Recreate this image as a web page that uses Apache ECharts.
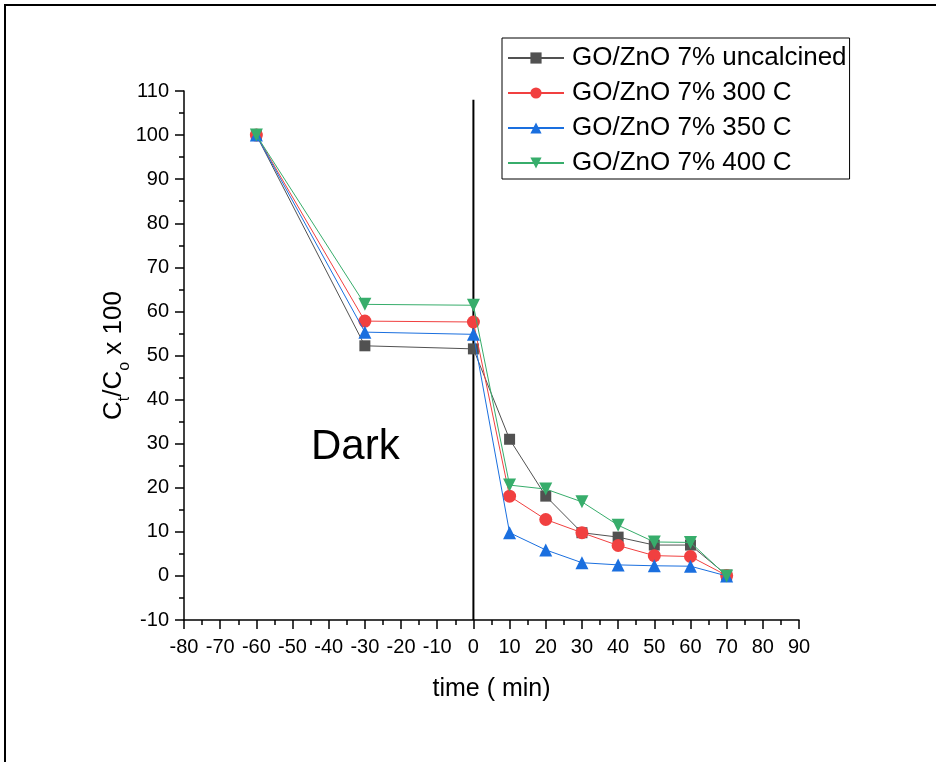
<!DOCTYPE html>
<html><head><meta charset="utf-8">
<script src="https://cdn.jsdelivr.net/npm/echarts@6/dist/echarts.min.js"></script>
<style>html,body{margin:0;padding:0;background:#fff}#c{width:936px;height:762px}</style>
</head><body><div id="c"></div>
<script>
const times = [-60, -30, 0, 10, 20, 30, 40, 50, 60, 70];
const seriesNames = ['GO/ZnO 7% uncalcined', 'GO/ZnO 7% 300 C', 'GO/ZnO 7% 350 C', 'GO/ZnO 7% 400 C'];
const uncalcined = [100, 52.2, 51.5, 31.0, 18.1, 9.8, 8.8, 7.0, 7.0, 0.2];
const c300 = [100, 57.8, 57.6, 18.1, 12.8, 9.8, 6.9, 4.6, 4.4, 0.1];
const c350 = [100, 55.3, 54.8, 9.8, 5.9, 3.0, 2.5, 2.3, 2.2, 0.0];
const c400 = [100, 61.6, 61.4, 20.6, 19.7, 16.8, 11.5, 7.7, 7.6, 0.0];
const darkLine = [[0, -10], [0, 108]];
const colors = ['#515151', '#F14040', '#1A6FDF', '#37AD6B'];
const symbols = ['rect', 'circle', 'triangle', 'path://M0,0 L10,0 L5,9 Z'];
const allData = [uncalcined, c300, c350, c400];

const chart = echarts.init(document.getElementById('c'), null, {renderer: 'canvas'});
const font = 'Liberation Sans, Arial, sans-serif';
const series = allData.map((d, i) => ({
  name: seriesNames[i],
  type: 'line',
  data: times.map((t, k) => [t, d[k]]),
  symbol: symbols[i],
  symbolSize: i === 0 ? 11 : 13,
  lineStyle: {width: 1, color: colors[i]},
  itemStyle: {color: colors[i]},
  z: 3 + i
}));
series.push({
  type: 'line', data: darkLine, symbol: 'none', silent: true,
  lineStyle: {width: 2, color: '#000'}, z: 2
});
chart.setOption({
  animation: false,
  backgroundColor: '#fff',
  grid: {left: 184, top: 91, right: 137, bottom: 142},
  xAxis: {
    type: 'value', min: -80, max: 90, interval: 10,
    name: 'time ( min)', nameLocation: 'middle', nameGap: 57, nameMoveOverlap: false,
    nameTextStyle: {fontFamily: font, fontSize: 25, color: '#000'},
    axisLine: {onZero: false, lineStyle: {color: '#000', width: 1.5}},
    axisTick: {length: 9, lineStyle: {color: '#000', width: 1.5}},
    minorTick: {show: true, splitNumber: 2, length: 5, lineStyle: {color: '#000', width: 1.5}},
    axisLabel: {fontFamily: font, fontSize: 20, color: '#000', margin: 17},
    splitLine: {show: false}
  },
  yAxis: {
    type: 'value', min: -10, max: 110, interval: 10,
    name: '{a|C}{s|t}{a|/C}{s|o}{a| x 100}', nameLocation: 'middle', nameGap: 57, nameMoveOverlap: false,
    nameTextStyle: {
      fontFamily: font, color: '#000',
      rich: {
        a: {fontFamily: font, fontSize: 26, color: '#000', lineHeight: 32, verticalAlign: 'bottom'},
        s: {fontFamily: font, fontSize: 16, color: '#000', lineHeight: 32, verticalAlign: 'bottom', padding: [0, 0, -6, 0]}
      }
    },
    axisLine: {onZero: false, lineStyle: {color: '#000', width: 1.5}},
    axisTick: {length: 9, lineStyle: {color: '#000', width: 1.5}},
    minorTick: {show: true, splitNumber: 2, length: 5, lineStyle: {color: '#000', width: 1.5}},
    axisLabel: {fontFamily: font, fontSize: 20, color: '#000', margin: 15},
    splitLine: {show: false}
  },
  legend: {
    orient: 'vertical', left: 502, top: 38,
    data: seriesNames,
    itemWidth: 56, itemHeight: 14, itemGap: 9,
    padding: [7, 3, 3, 5],
    borderColor: '#000', borderWidth: 1,
    textStyle: {fontFamily: font, fontSize: 26, color: '#000', padding: [0, 0, 0, 3]},
    inactiveColor: '#ccc'
  },
  graphic: [
    {type: 'text', left: 311, top: 426, style: {text: 'Dark', font: '42px ' + font, fill: '#000'}},
    {type: 'line', shape: {x1: 4, y1: 5, x2: 936, y2: 5}, style: {stroke: '#000', lineWidth: 2}},
    {type: 'line', shape: {x1: 5, y1: 4, x2: 5, y2: 762}, style: {stroke: '#000', lineWidth: 2}}
  ],
  series: series
});
</script></body></html>
